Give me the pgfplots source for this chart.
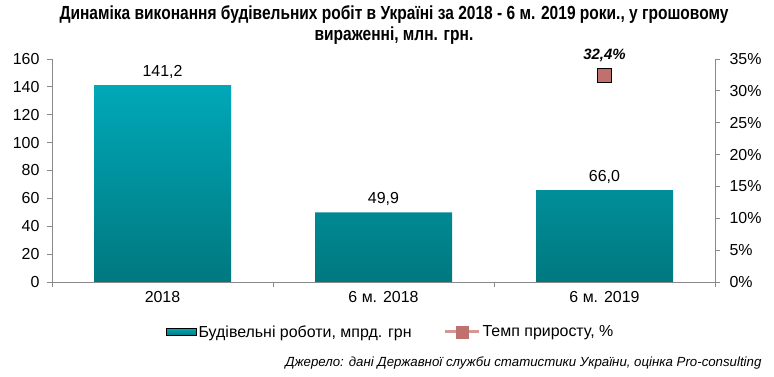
\documentclass[border=0pt]{standalone}
\usepackage{fontspec}
\setmainfont{Liberation Sans}
\newfontfamily\titlefont{Liberation Sans}[FakeStretch=0.82]
\usepackage{pgfplots}
\pgfplotsset{compat=1.18}
\definecolor{tealtop}{HTML}{00A8B8}
\definecolor{tealbot}{HTML}{00787F}
\definecolor{markc}{HTML}{C0716D}
\definecolor{axgray}{HTML}{898989}
\definecolor{linec}{HTML}{D49894}
\pgfplotsset{
  /pgf/number format/assume math mode=true,
  common/.style={
    at={(52bp,95bp)}, anchor=south west,
    scale only axis, width=663bp, height=223bp,
    xmin=-0.5, xmax=2.5,
    tick align=outside, major tick length=5bp,
    tick style={draw=axgray, line width=0.8bp},
    axis line style={draw=axgray, line width=0.8bp, -},
    tick label style={font=\fontsize{16}{18}\selectfont, text=black},
  }
}
\begin{document}
\begin{tikzpicture}
\path[use as bounding box] (0,0) rectangle (774bp,377bp);
\begin{axis}[
  common,
  ymin=0, ymax=160,
  axis x line*=bottom, axis y line*=left,
  xtick={-0.5,0.5,1.5,2.5},
  x tick label as interval,
  xticklabels={2018,6 м. 2018,6 м. 2019},
  xticklabel style={yshift=-1bp},
  ytick={0,20,...,160},
  yticklabel style={xshift=-4bp},
]
\addplot[ybar, bar width=137bp, draw=none, top color=tealtop, bottom color=tealbot,
  nodes near coords={\pgfmathprintnumber[fixed,fixed zerofill,precision=1,use comma]{\pgfplotspointmeta}},
  nodes near coords style={font=\fontsize{16}{18}\selectfont, text=black, yshift=3bp}]
  coordinates {(0,141.2) (1,49.9) (2,66.0)};
\end{axis}
\begin{axis}[
  common,
  ymin=0, ymax=35,
  axis x line=none, axis y line*=right,
  ytick={0,5,...,35},
  yticklabel={\pgfmathprintnumber{\tick}\%},
  yticklabel style={xshift=6bp},
  legend style={at={(0.511,-0.224)}, anchor=center, draw=none, fill=none,
    font=\fontsize{16}{18}\selectfont,
    /tikz/every even column/.append style={column sep=30bp}},
  legend columns=2,
]
\addlegendimage{legend image code/.code={\fill[top color=tealtop,bottom color=tealbot] (0bp,-3.5bp) rectangle (30bp,3.5bp);}}
\addlegendentry{Будівельні роботи, мпрд. грн}
\addplot[only marks, mark=square*, mark size=7bp, mark options={fill=markc, draw=none},
  legend image code/.code={\draw[linec, line width=3bp] (0bp,0bp) -- (34bp,0bp); \fill[markc] (11bp,-6bp) rectangle (23bp,6bp);},
  nodes near coords={\pgfmathprintnumber[fixed,precision=1,use comma]{\pgfplotspointmeta}\%},
  nodes near coords style={font=\fontsize{15}{17}\selectfont\bfseries\itshape, text=black, yshift=10bp}]
  coordinates {(2,32.4)};
\addlegendentry{Темп приросту, \%}
\end{axis}
\node[font=\titlefont\fontsize{19}{21}\selectfont\bfseries, align=center, text=black] at (394bp,352bp)
  {Динаміка виконання будівельних робіт в Україні за 2018 - 6 м. 2019 роки., у грошовому\\ вираженні, млн. грн.};
\node[anchor=east, font=\fontsize{13.3}{15}\selectfont\itshape, text=black] at (765bp,14bp)
  {Джерело: дані Державної служби статистики України, оцінка Pro-consulting};
\end{tikzpicture}
\end{document}
